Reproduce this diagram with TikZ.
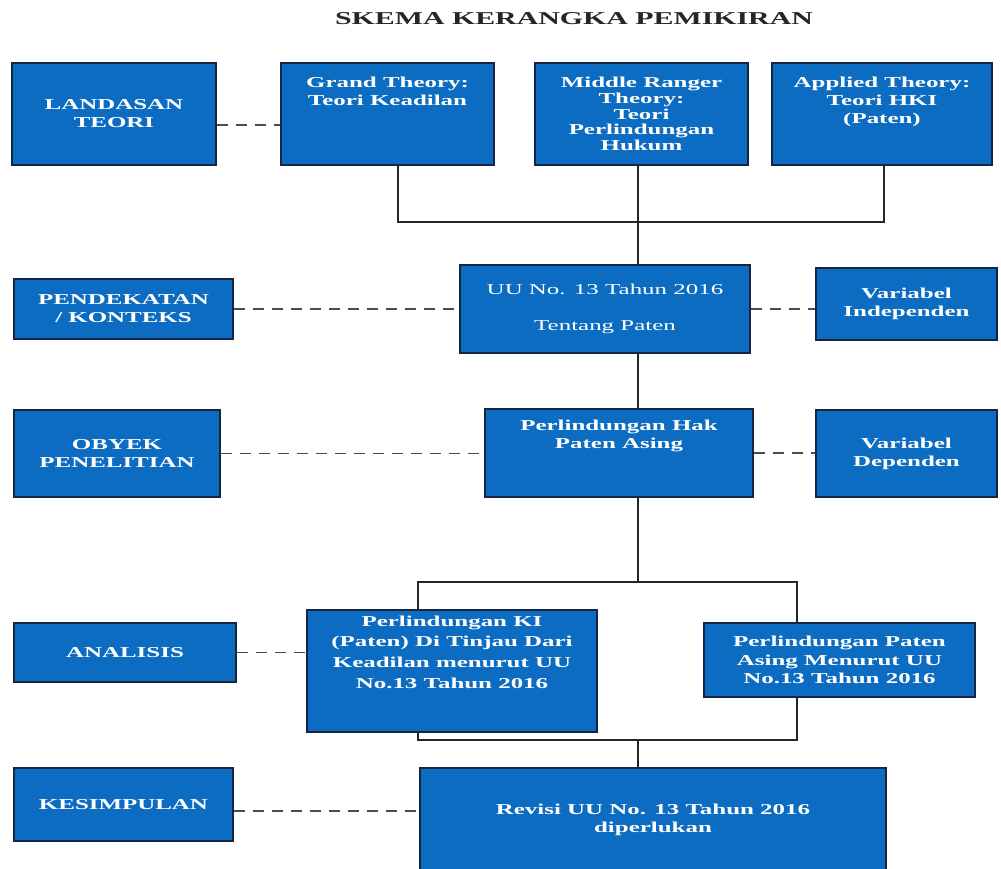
\documentclass[tikz,border=0pt]{standalone}
\usepackage{fontspec}
\setmainfont{Liberation Serif}[FakeStretch=1.65]
\usepackage{xcolor}
\usetikzlibrary{positioning,backgrounds}
\definecolor{boxblue}{RGB}{12,108,194}
\definecolor{boxedge}{RGB}{22,38,66}

\begin{document}
\begin{tikzpicture}[
    box/.style={rectangle, draw=boxedge, line width=1.3pt, fill=boxblue, text=white, align=center, inner sep=1pt, font=\fontsize{8.6}{10.2}\selectfont\bfseries},
    txt/.style={text=white, align=center, inner sep=0pt, font=\fontsize{8.6}{10.2}\selectfont\bfseries},
    link/.style={line width=1.1pt, black!85},
    dashlink/.style={line width=1.1pt, black!70, dash pattern=on 0.22cm off 0.16cm}]

\useasboundingbox (0,0) rectangle (20.02,-17.38);

\node[font=\fontsize{10.3}{12}\selectfont\bfseries, text=black!85] (title) at (11.48,-0.37) {SKEMA KERANGKA PEMIKIRAN};

% baris teori
\node[box, minimum width=4.08cm, minimum height=2.04cm] (landasan) at (2.28,-2.28) {LANDASAN\\TEORI};
\node[box, minimum width=4.26cm, minimum height=2.04cm] (grand) at (7.75,-2.28) {};
\node[txt, below=0.3cm of grand.north] (grand-t) {Grand Theory:\\Teori Keadilan};
\node[box, minimum width=4.26cm, minimum height=2.04cm, font=\fontsize{8.6}{8.9}\selectfont\bfseries] (middle) at (12.83,-2.28) {Middle Ranger\\Theory:\\Teori\\Perlindungan\\Hukum};
\node[box, minimum width=4.4cm, minimum height=2.04cm] (applied) at (17.64,-2.28) {};
\node[txt, below=0.3cm of applied.north] (applied-t) {Applied Theory:\\Teori HKI\\(Paten)};

% pendekatan
\node[box, minimum width=4.38cm, minimum height=1.2cm] (pendekatan) at (2.47,-6.18) {PENDEKATAN\\/ KONTEKS};
\node[box, minimum width=5.8cm, minimum height=1.76cm, font=\fontsize{8.6}{10.2}\selectfont] (uu) at (12.1,-6.18) {UU No. 13 Tahun 2016\\[10.2pt]Tentang Paten};
\node[box, minimum width=3.62cm, minimum height=1.44cm] (indep) at (18.13,-6.08) {Variabel\\Independen};

% obyek
\node[box, minimum width=4.12cm, minimum height=1.74cm] (obyek) at (2.34,-9.07) {OBYEK\\PENELITIAN};
\node[box, minimum width=5.36cm, minimum height=1.76cm] (hak) at (12.38,-9.06) {};
\node[txt, below=0.24cm of hak.north] (hak-t) {Perlindungan Hak\\Paten Asing};
\node[box, minimum width=3.62cm, minimum height=1.74cm] (dep) at (18.13,-9.07) {Variabel\\Dependen};

% analisis
\node[box, minimum width=4.44cm, minimum height=1.18cm] (analisis) at (2.5,-13.05) {ANALISIS};
\node[box, minimum width=5.8cm, minimum height=2.44cm] (ki) at (9.04,-13.42) {};
\node[txt, below=0.13cm of ki.north, font=\fontsize{8.6}{11.8}\selectfont\bfseries] (ki-t) {Perlindungan KI\\(Paten) Di Tinjau Dari\\Keadilan menurut UU\\No.13 Tahun 2016};
\node[box, minimum width=5.42cm, minimum height=1.48cm, font=\fontsize{8.6}{10.5}\selectfont\bfseries] (paten) at (16.79,-13.2) {Perlindungan Paten\\Asing Menurut UU\\No.13 Tahun 2016};

% kesimpulan
\node[box, minimum width=4.38cm, minimum height=1.46cm] (kesimpulan) at (2.47,-16.09) {KESIMPULAN};
\node[box, minimum width=9.32cm, minimum height=2.06cm] (revisi) at (13.06,-16.39) {Revisi UU No. 13 Tahun 2016\\diperlukan};

\begin{scope}[on background layer]
\fill[white] (0,0) rectangle (20.02,-17.38);
\coordinate (trunk) at (12.76,0);
\coordinate (bus1) at (12.76,-4.44);
\coordinate (bus2) at (12.76,-11.64);
\coordinate (bus3) at (12.76,-14.8);
\coordinate (lft) at (8.36,0);
\coordinate (rgt) at (15.94,0);
\draw[link] ([xshift=0.21cm]grand.south) |- (bus1) -| ([xshift=0.04cm]applied.south);
\draw[link] (trunk |- middle.south) -- (trunk |- uu.north);
\draw[link] (trunk |- uu.south) -- (trunk |- hak.north);
\draw[link] (trunk |- hak.south) -- (bus2);
\draw[link] (lft |- ki.north) |- (bus2) -| (rgt |- paten.north);
\draw[link] (lft |- ki.south) |- (bus3) -| (rgt |- paten.south);
\draw[link] (bus3) -- (trunk |- revisi.north);
% garis putus-putus
\draw[dashlink] ([yshift=-0.22cm]landasan.east) -- ([yshift=-0.22cm]grand.west);
\draw[dashlink] (pendekatan.east) -- (pendekatan.east -| uu.west);
\draw[dashlink] (uu.east) -- (uu.east -| indep.west);
\draw[dashlink] (obyek.east) -- (obyek.east -| hak.west);
\draw[dashlink] (hak.east) -- (hak.east -| dep.west);
\draw[dashlink] (analisis.east) -- (analisis.east -| ki.west);
\draw[dashlink] ([yshift=-0.13cm]kesimpulan.east) -- ([yshift=-0.13cm]kesimpulan.east -| revisi.west);
\end{scope}

\end{tikzpicture}
\end{document}
